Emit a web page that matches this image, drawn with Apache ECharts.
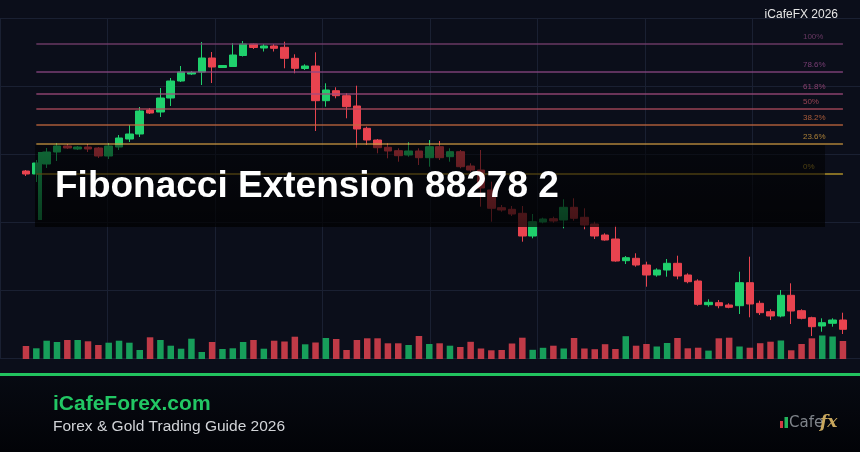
<!DOCTYPE html>
<html>
<head>
<meta charset="utf-8">
<script src="https://cdn.jsdelivr.net/npm/echarts@6/dist/echarts.min.js"></script>
<style>
html, body { margin: 0; padding: 0; background: #0b0e1a; }
#chart { width: 860px; height: 452px; }
</style>
</head>
<body>
<div id="chart"></div>
<script>
// candles: [open, close, low, high]
var ohlc = [
    [255, 252, 250, 256], [252, 263, 244, 266], [262, 274, 258, 278], [274, 280, 265, 283],
    [280, 278, 277, 282], [277, 279, 276, 280], [279, 277, 274, 282], [278, 270, 268, 279],
    [270, 280, 267, 283], [279, 288, 276, 291], [287, 292, 284, 301], [292, 315, 289, 319],
    [316, 313, 312, 318], [314, 328, 309, 338], [328, 345, 320, 348], [345, 354, 344, 360],
    [352, 353.5, 351, 355], [354, 368, 341, 384], [368, 359, 343, 374], [358.5, 360.5, 358, 361],
    [359.5, 371, 359, 383], [370.5, 382, 369.5, 385], [382, 378.5, 377, 382.5], [378, 380, 374.5, 382],
    [380, 377.7, 374.5, 382], [378.7, 367.7, 357.7, 384.3], [367.7, 357.7, 352.7, 371.7], [357.5, 360, 356, 361.7],
    [360, 325.3, 295, 373.7], [325.3, 336, 319.3, 342.7], [335.3, 330.3, 327.7, 338.7], [330.3, 319.3, 307.7, 332.7],
    [320, 297, 278.3, 340.3], [297.7, 286, 281, 299.3], [286, 278.3, 272.7, 287], [278.7, 275, 267.7, 282.7],
    [275.3, 270.3, 264.3, 277.7], [271, 275, 269.3, 283.7], [275, 268.3, 261, 277.7], [268.3, 279.3, 259.3, 286],
    [279.3, 268.3, 266, 285], [269.3, 274.3, 264.3, 277.7], [274.3, 259.3, 257.7, 276], [260, 256, 254.3, 262.7],
    [256, 238, 219.3, 276], [236, 217.7, 204.3, 244.3], [218.3, 216, 214.3, 221], [216.7, 212, 210, 220],
    [212.7, 190, 184.3, 220], [190, 204.3, 187.7, 212], [204, 207, 202.7, 208.3], [207.3, 205, 203.3, 209.3],
    [206, 218.7, 197.7, 226.7], [218.7, 207.7, 205.3, 227.7], [208.7, 201, 196.7, 217.7], [202, 190, 187, 204.3],
    [191, 186, 185.3, 192.7], [187, 165, 164.3, 200.3], [165.3, 168.3, 162, 170], [167.7, 161, 159.3, 172.7],
    [161, 151, 139.3, 164.3], [151, 156, 149.3, 157.7], [156, 162.7, 149.3, 167], [162.7, 150, 146.7, 170.3],
    [151, 144.3, 142.7, 152.7], [145, 121.7, 120.3, 146.7], [121.3, 123.7, 119.3, 126.7], [123.3, 120.3, 117.7, 126],
    [121, 118.7, 117.7, 122.7], [120.3, 143.3, 112, 154.3], [143.3, 122, 108.7, 169.3], [122.7, 113.3, 111, 125.3],
    [114.3, 110, 106, 116.7], [110, 130.7, 108.7, 136], [130.7, 115, 102, 142.7], [115.3, 107.7, 106.7, 116.7],
    [108.3, 99.3, 90, 109.3], [100, 103.3, 94.3, 107.7], [102.7, 106, 99.3, 107.7], [106, 96.7, 92, 113.3]
];
var volumes = [
    1300, 1070, 1830, 1700, 1900, 1900, 1770, 1400, 1630, 1830,
    1630, 900, 2170, 1900, 1330, 1030, 2030, 700, 1700, 1000,
    1070, 1700, 1900, 1030, 1830, 1750, 2230, 1470, 1650, 2100,
    2000, 900, 1900, 2070, 2070, 1570, 1570, 1400, 2300, 1500,
    1570, 1330, 1200, 1720, 1050, 870, 900, 1550, 2130, 920,
    1120, 1330, 1050, 2100, 1050, 980, 1480, 1000, 2280, 1330,
    1500, 1250, 1600, 2100, 1070, 1130, 840, 2070, 2130, 1250,
    1130, 1580, 1730, 1850, 870, 1500, 2070, 2350, 2250, 1800
];
// the tall thin bar next to the second candle: [index, low, high]
var spike = [[1, 206, 274]];
var fibRatios = [0, 0.236, 0.382, 0.5, 0.618, 0.786, 1];
var fibLabels = ['0%', '23.6%', '38.2%', '50%', '61.8%', '78.6%', '100%'];
var fibColors = ['#c9a52c', '#c8943c', '#c4683e', '#b14c5e', '#a04a7c', '#8c4684', '#793f70'];
var fibLow = 252, fibHigh = 382;
var fibStart = 1, fibEnd = 79;
var categories = ohlc.map(function (d, i) { return String(i + 1); });

var up = '#1fd06c', down = '#e8434f';
var volUp = '#179e5a', volDown = '#c03a47';

var chart = echarts.init(document.getElementById('chart'));

var fibLines = fibRatios.map(function (r, i) {
    var level = fibLow + r * (fibHigh - fibLow);
    return [
        { coord: [categories[fibStart], level], lineStyle: { color: fibColors[i] },
          label: { formatter: fibLabels[i], color: fibColors[i] } },
        { coord: [categories[fibEnd], level] }
    ];
});

var option = {
    backgroundColor: '#0b0e1a',
    animation: false,
    grid: [
        { left: 0, right: 0, top: 18, bottom: 94 },
        { left: 20.8, right: 11.9, top: 18, bottom: 94 },
        { left: 20.8, right: 11.9, top: 299, bottom: 93 }
    ],
    xAxis: [
        { type: 'value', gridIndex: 0, min: 0, max: 860, interval: 107.5,
          axisLine: { show: false }, axisTick: { show: false }, axisLabel: { show: false },
          splitLine: { show: true, lineStyle: { color: '#1a2032', width: 1 } } },
        { type: 'category', gridIndex: 1, data: categories, show: false },
        { type: 'category', gridIndex: 2, data: categories, show: false }
    ],
    yAxis: [
        { type: 'value', gridIndex: 0, min: 68, max: 408, interval: 68,
          axisLine: { show: false }, axisTick: { show: false }, axisLabel: { show: false },
          splitLine: { show: true, lineStyle: { color: '#1a2032', width: 1 } } },
        { type: 'value', gridIndex: 1, min: 68, max: 408, show: false, splitLine: { show: false } },
        { type: 'value', gridIndex: 2, min: 0, max: 6000, show: false, splitLine: { show: false } }
    ],
    series: [
        {
            type: 'candlestick',
            xAxisIndex: 1, yAxisIndex: 1,
            data: ohlc,
            barWidth: 8,
            itemStyle: { color: up, color0: down, borderColor: up, borderColor0: down, borderWidth: 1 },
            markLine: {
                silent: true,
                symbol: 'none',
                lineStyle: { type: 'solid', width: 1.5, opacity: 0.85 },
                label: { show: true, position: 'insideEndTop', align: 'left', distance: [40, 3],
                         fontSize: 8, fontFamily: 'Liberation Sans', opacity: 0.85 },
                data: fibLines
            }
        },
        {
            type: 'custom',
            xAxisIndex: 1, yAxisIndex: 1,
            data: spike,
            renderItem: function (params, api) {
                var lo = api.coord([api.value(0), api.value(1)]);
                var hi = api.coord([api.value(0), api.value(2)]);
                return { type: 'rect', shape: { x: lo[0] + 1.7, y: hi[1], width: 4, height: lo[1] - hi[1] },
                         style: { fill: up } };
            }
        },
        {
            type: 'bar',
            xAxisIndex: 2, yAxisIndex: 2,
            barWidth: 6.5,
            data: volumes.map(function (v, i) {
                return { value: v, itemStyle: { color: ohlc[i][1] >= ohlc[i][0] ? volUp : volDown } };
            })
        }
    ],
    graphic: [
        { type: 'rect', z: 50, shape: { x: 35, y: 145, width: 790, height: 82 },
          style: { fill: new echarts.graphic.LinearGradient(0, 0, 0, 1, [
              { offset: 0, color: 'rgba(0,0,0,0.5)' }, { offset: 1, color: 'rgba(0,0,0,0.72)' }]) } },
        { type: 'text', z: 60, style: { text: 'Fibonacci Extension 88278 2', x: 55, y: 187,
          font: 'bold 37px "Liberation Sans", Arial, sans-serif', fill: '#ffffff', verticalAlign: 'middle' } },
        { type: 'text', z: 60, style: { text: 'iCafeFX 2026', x: 838, y: 15, align: 'right', verticalAlign: 'middle',
          font: '12px "Liberation Sans", Arial, sans-serif', fill: '#e6e6e6' } },
        { type: 'rect', z: 40, shape: { x: 0, y: 376, width: 860, height: 76 },
          style: { fill: new echarts.graphic.LinearGradient(0, 0, 0, 1, [
              { offset: 0, color: '#070a12' }, { offset: 1, color: '#020307' }]) } },
        { type: 'rect', z: 41, shape: { x: 0, y: 373, width: 860, height: 3 }, style: { fill: '#22c35f' } },
        { type: 'text', z: 60, style: { text: 'iCafeForex.com', x: 53, y: 404, verticalAlign: 'middle',
          font: 'bold 21px "Liberation Sans", Arial, sans-serif', fill: '#22c764' } },
        { type: 'text', z: 60, style: { text: 'Forex & Gold Trading Guide 2026', x: 53, y: 427, verticalAlign: 'middle',
          font: '15.5px "Liberation Sans", Arial, sans-serif', fill: '#d2d4d8' } },
        { type: 'rect', z: 60, shape: { x: 780, y: 421, width: 3, height: 7 }, style: { fill: '#d23a44' } },
        { type: 'rect', z: 60, shape: { x: 784.5, y: 417, width: 3.5, height: 11 }, style: { fill: '#22b45c' } },
        { type: 'text', z: 60, style: { text: 'Cafe', x: 789, y: 423, verticalAlign: 'middle',
          font: '15px "DejaVu Sans", sans-serif', fill: '#8d9299', opacity: 0.9 } },
        { type: 'text', z: 60, style: { text: 'fx', x: 820, y: 423, verticalAlign: 'middle',
          font: 'italic bold 17px "DejaVu Serif", serif', fill: '#c9a85e' } }
    ]
};
chart.setOption(option);
</script>
</body>
</html>
